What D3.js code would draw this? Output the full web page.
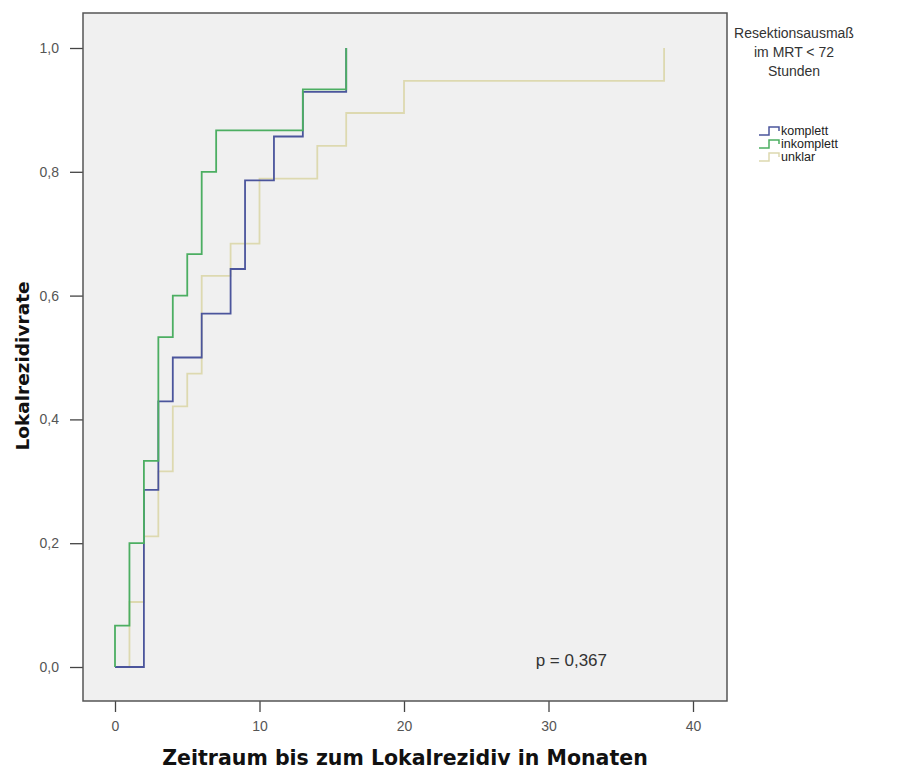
<!DOCTYPE html>
<head>
  <meta charset="utf-8">
  <script src="https://d3js.org/d3.v7.min.js"></script>
  <style>
    body { margin: 0; background: white; }
    text { font-family: "Liberation Sans", Arial, sans-serif; }
    .axis-title { font-family: "DejaVu Sans", Verdana, sans-serif; font-weight: bold; fill: #111; }
  </style>
</head>

<body>
  <svg width="917" height="772"></svg>

  <script>
    // Monate und kumulierte Rezidivrate je Gruppe
    const kompTimes = [0, 2, 3, 4, 6, 8, 9, 11, 13, 16];
    const kompRates = [0, 0.286, 0.429, 0.5, 0.571, 0.643, 0.786, 0.857, 0.929, 1.0];
    const inkTimes = [0, 0, 1, 2, 3, 4, 5, 6, 7, 13, 16];
    const inkRates = [0, 0.067, 0.2, 0.333, 0.533, 0.6, 0.667, 0.8, 0.867, 0.933, 1.0];
    const unkTimes = [0, 1, 2, 3, 4, 5, 6, 8, 10, 14, 16, 20, 38];
    const unkRates = [0, 0.105, 0.211, 0.316, 0.421, 0.474, 0.632, 0.684, 0.789, 0.842, 0.895, 0.947, 1.0];

    const groupNames = ['komplett', 'inkomplett', 'unklar'];
    const groupColors = ['#4b559c', '#4cae62', '#ddd9b0'];
    const xTicks = [0, 10, 20, 30, 40];
    const yTicks = [0, 0.2, 0.4, 0.6, 0.8, 1.0];
    const legendTitle = ['Resektionsausmaß', 'im MRT < 72', 'Stunden'];
    const pText = 'p = 0,367';

    const svg = d3.select('svg');
    const frame = { left: 83, top: 13, right: 727, bottom: 701 };

    const x = d3.scaleLinear().domain([0, 40]).range([115, 693]);
    const y = d3.scaleLinear().domain([0, 1]).range([667, 48]);

    const de = d3.formatLocale({ decimal: ',', thousands: '.', grouping: [3], currency: ['', '€'] });
    const fmt = de.format('.1f');

    svg.append('rect')
      .attr('x', frame.left).attr('y', frame.top)
      .attr('width', frame.right - frame.left)
      .attr('height', frame.bottom - frame.top)
      .attr('fill', '#f0f0f0');

    // Achsen
    const yAxis = svg.append('g')
      .attr('transform', `translate(${frame.left},0)`)
      .call(d3.axisLeft(y).tickValues(yTicks).tickFormat(fmt).tickSize(13).tickPadding(11));
    const xAxis = svg.append('g')
      .attr('transform', `translate(0,${frame.bottom})`)
      .call(d3.axisBottom(x).tickValues(xTicks).tickSize(11).tickPadding(9));
    [yAxis, xAxis].forEach(a => {
      a.select('.domain').remove();
      a.selectAll('line').attr('stroke', '#444').attr('stroke-width', 1.3);
      a.selectAll('text').attr('font-size', 14).attr('fill', '#555')
        .attr('font-family', '"Liberation Sans", Arial, sans-serif');
    });

    const line = d3.line()
      .x(d => x(d[0]))
      .y(d => y(d[1]))
      .curve(d3.curveStepAfter);

    const series = [
      { name: 'unklar', times: unkTimes, rates: unkRates, color: groupColors[2] },
      { name: 'komplett', times: kompTimes, rates: kompRates, color: groupColors[0] },
      { name: 'inkomplett', times: inkTimes, rates: inkRates, color: groupColors[1] }
    ];

    svg.append('g').selectAll('path')
      .data(series)
      .enter().append('path')
      .attr('d', s => line(s.times.map((t, i) => [t, s.rates[i]])))
      .attr('fill', 'none')
      .attr('stroke', s => s.color)
      .attr('stroke-width', 1.8);

    svg.append('rect')
      .attr('x', frame.left).attr('y', frame.top)
      .attr('width', frame.right - frame.left)
      .attr('height', frame.bottom - frame.top)
      .attr('fill', 'none')
      .attr('stroke', '#555')
      .attr('stroke-width', 1.5);

    svg.append('text')
      .attr('x', 607).attr('y', 666)
      .attr('text-anchor', 'end')
      .attr('font-size', 17)
      .attr('fill', '#333')
      .text(pText);

    // Achsentitel
    svg.append('text')
      .attr('class', 'axis-title')
      .attr('x', 405).attr('y', 765)
      .attr('text-anchor', 'middle')
      .attr('font-size', 20.5)
      .text('Zeitraum bis zum Lokalrezidiv in Monaten');

    svg.append('text')
      .attr('class', 'axis-title')
      .attr('transform', 'translate(29,366) rotate(-90)')
      .attr('text-anchor', 'middle')
      .attr('font-size', 18.5)
      .text('Lokalrezidivrate');

    // Legende
    const legend = svg.append('g');
    legend.selectAll('text.title')
      .data(legendTitle)
      .enter().append('text')
      .attr('class', 'title')
      .attr('x', 794)
      .attr('y', (d, i) => 38 + i * 19)
      .attr('text-anchor', 'middle')
      .attr('font-size', 14)
      .attr('fill', '#333')
      .text(d => d);

    const item = legend.selectAll('g.item')
      .data(groupNames)
      .enter().append('g')
      .attr('class', 'item')
      .attr('transform', (d, i) => `translate(0,${131 + i * 13})`);
    item.append('path')
      .attr('d', 'M759,4 H769 V-4 H779 V0')
      .attr('fill', 'none')
      .attr('stroke', (d, i) => groupColors[i])
      .attr('stroke-width', 1.5);
    item.append('text')
      .attr('x', 781).attr('y', 4)
      .attr('font-size', 12.5)
      .attr('fill', '#222')
      .text(d => d);
  </script>
</body>
